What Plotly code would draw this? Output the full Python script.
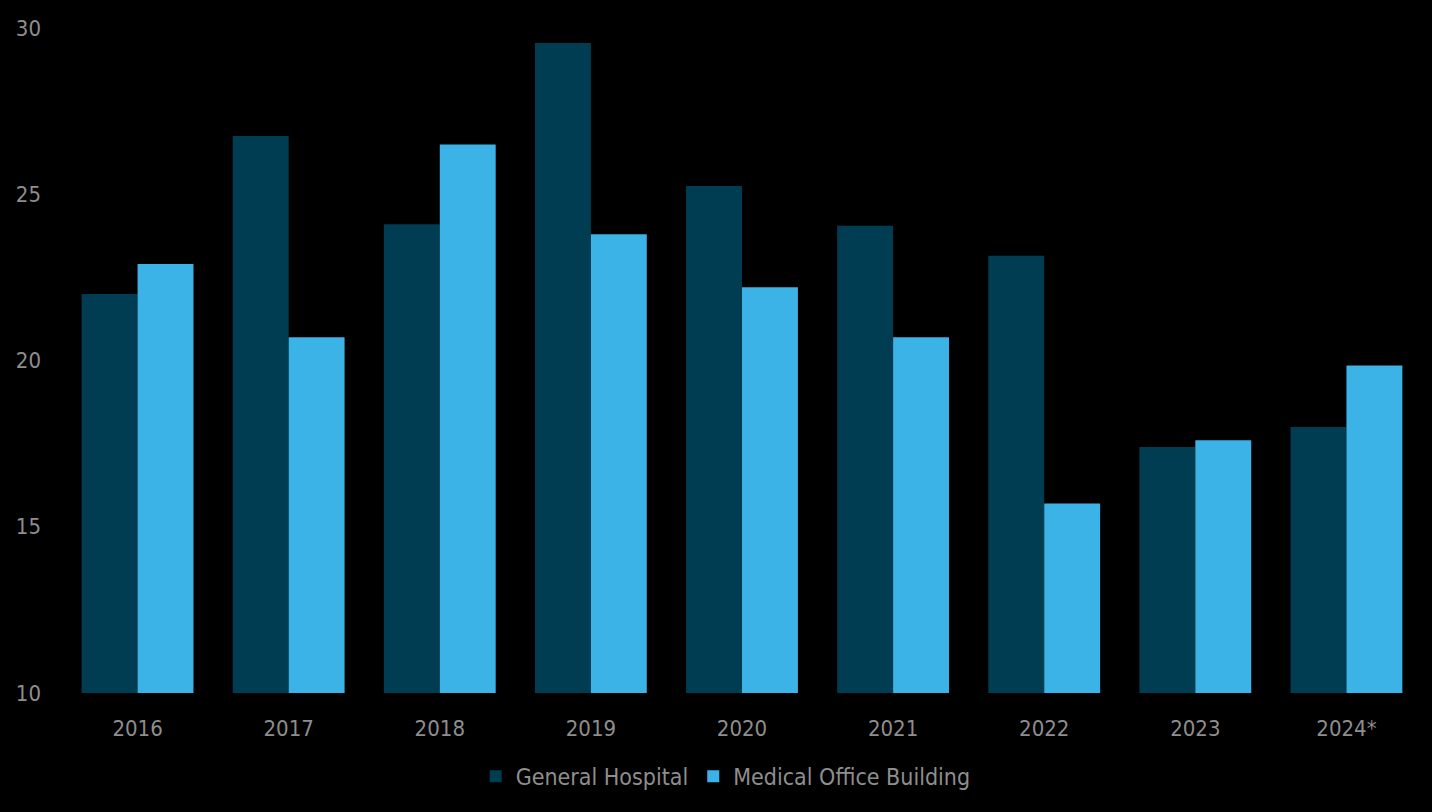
import plotly.graph_objects as go

years = ["2016", "2017", "2018", "2019", "2020", "2021", "2022", "2023", "2024*"]
general_hospital = [22.0, 26.75, 24.1, 29.55, 25.25, 24.05, 23.15, 17.4, 18.0]
medical_office = [22.9, 20.7, 26.5, 23.8, 22.2, 20.7, 15.7, 17.6, 19.85]
y_ticks = [10, 15, 20, 25, 30]

font_family = "DejaVu Sans Condensed, Roboto Condensed, Roboto, sans-serif"
text_color = "#8e8e8e"

fig = go.Figure()
fig.add_trace(go.Bar(x=years, y=general_hospital, name="General Hospital",
                     marker=dict(color="#013d52", line=dict(width=0))))
fig.add_trace(go.Bar(x=years, y=medical_office, name="Medical Office Building",
                     marker=dict(color="#3bb3e6", line=dict(width=0))))

fig.update_layout(
    width=1432, height=812,
    paper_bgcolor="black", plot_bgcolor="black",
    margin=dict(l=62, r=10, t=28, b=119),
    barmode="group", bargap=0.26, bargroupgap=0,
    font=dict(family=font_family, size=22, color=text_color),
    showlegend=True,
    legend=dict(orientation="h", x=0.488, xanchor="center", y=-0.093, yanchor="top",
                font=dict(size=23, color=text_color), itemwidth=30,
                traceorder="normal"),
    xaxis=dict(showgrid=False, zeroline=False, showline=False, ticks="",
               ticklabelstandoff=20,
               tickfont=dict(size=22, color=text_color)),
    yaxis=dict(range=[10, 30], tickvals=y_ticks, showgrid=False, zeroline=False,
               showline=False, ticks="", ticklabelstandoff=20,
               tickfont=dict(size=22, color=text_color)),
)

fig.write_html("out.html", config={"displayModeBar": False})

with open("out.html", "r", encoding="utf-8") as f:
    html = f.read()
html = html.replace("<head>", "<head><style>html,body{margin:0;padding:0;background:#000;}</style>", 1)
with open("out.html", "w", encoding="utf-8") as f:
    f.write(html)
